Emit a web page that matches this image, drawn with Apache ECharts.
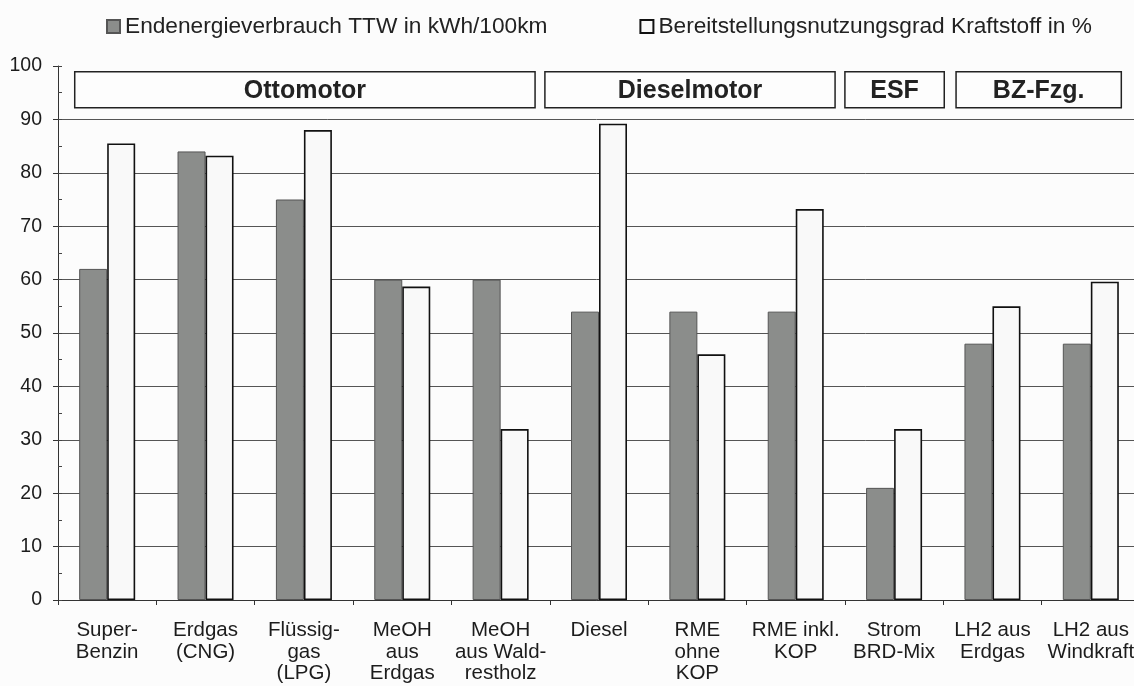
<!DOCTYPE html>
<html>
<head>
<meta charset="utf-8">
<script src="https://cdn.jsdelivr.net/npm/echarts@6/dist/echarts.min.js"></script>
<style>
  html, body { margin: 0; padding: 0; background: #fcfcfc; }
  #chart { width: 1134px; height: 686px; }
</style>
</head>
<body>
<div id="chart"></div>
<script>
// Kategorien (x-Achse)
var categories = [
  'Super-\nBenzin', 'Erdgas\n(CNG)', 'Flüssig-\ngas\n(LPG)', 'MeOH\naus\nErdgas',
  'MeOH\naus Wald-\nrestholz', 'Diesel', 'RME\nohne\nKOP', 'RME inkl.\nKOP',
  'Strom\nBRD-Mix', 'LH2 aus\nErdgas', 'LH2 aus\nWindkraft'
];
var seriesNames = ['Endenergieverbrauch TTW in kWh/100km', 'Bereitstellungsnutzungsgrad Kraftstoff in %'];
var endenergie   = [62, 84, 75, 60, 60, 54, 54, 54, 21, 48, 48];
var nutzungsgrad = [85.5, 83.2, 88, 58.7, 32, 89.2, 46, 73.2, 32, 55, 59.6];
var yTicks = [0, 10, 20, 30, 40, 50, 60, 70, 80, 90, 100];

// Gruppen ueber den Balken
var groupNames = ['Ottomotor', 'Dieselmotor', 'ESF', 'BZ-Fzg.'];

// Lage der Kaesten in Kategorie-Einheiten (nur Layout)
var boxLayout = [[0.17, 4.85], [4.95, 7.9], [8.0, 9.01], [9.13, 10.81]];
var boxY = [92.2, 98.9];

var font = 'Liberation Sans, Arial, sans-serif';
var chart = echarts.init(document.getElementById('chart'));

var option = {
  backgroundColor: '#fcfcfc',
  animation: false,
  textStyle: { fontFamily: font, color: '#222' },
  legend: {
    left: 101, top: 10,
    itemWidth: 13, itemHeight: 13, itemGap: 92,
    icon: 'rect',
    data: seriesNames,
    textStyle: { fontSize: 22.7, color: '#222', fontFamily: font }
  },
  grid: { left: 58, right: -6, top: 66, bottom: 86, containLabel: false, outerBoundsMode: 'none' },
  xAxis: [{
    type: 'category',
    data: categories,
    axisLine: { lineStyle: { color: '#333', width: 1 } },
    axisTick: { show: true, length: 5, interval: 0, lineStyle: { color: '#333' } },
    axisLabel: { interval: 0, fontSize: 20.5, lineHeight: 21.5, margin: 20, color: '#1c1c1c', fontFamily: font }
  }, {
    type: 'value', min: 0, max: 11, show: false
  }],
  yAxis: [{
    type: 'value', min: 0, max: 100, interval: 10,
    axisLine: { show: true, lineStyle: { color: '#333' } },
    axisTick: { show: true, length: 5, lineStyle: { color: '#333' } },
    axisLabel: {
      fontSize: 19.5, margin: 16, color: '#1c1c1c', fontFamily: font,
      formatter: function (v) { return yTicks.indexOf(v) >= 0 ? String(v) : ''; }
    },
    splitLine: { show: true, showMaxLine: false, lineStyle: { color: '#555', width: 1 } }
  }, {
    type: 'value', min: 0, max: 100, interval: 5, position: 'left',
    axisLine: { show: false },
    axisTick: { show: true, inside: true, length: 4, lineStyle: { color: '#444' } },
    axisLabel: { show: false },
    splitLine: { show: false }
  }],
  series: [{
    name: seriesNames[0],
    type: 'bar',
    data: endenergie,
    barWidth: 28,
    barGap: '0%',
    itemStyle: { color: '#8b8d8b', borderColor: '#555', borderWidth: 1 }
  }, {
    name: seriesNames[1],
    type: 'bar',
    data: nutzungsgrad,
    barWidth: 28,
    itemStyle: { color: '#f9f9f9', borderColor: '#111', borderWidth: 1.6 }
  }, {
    type: 'custom',
    xAxisIndex: 1,
    yAxisIndex: 0,
    silent: true,
    z: 5,
    data: boxLayout.map(function (b, i) { return [b[0], b[1], i]; }),
    renderItem: function (params, api) {
      var p0 = api.coord([api.value(0), boxY[1]]);
      var p1 = api.coord([api.value(1), boxY[0]]);
      var name = groupNames[api.value(2)];
      return {
        type: 'group',
        children: [{
          type: 'rect',
          shape: { x: p0[0], y: p0[1], width: p1[0] - p0[0], height: p1[1] - p0[1] },
          style: { fill: '#fdfdfd', stroke: '#222', lineWidth: 1.5 }
        }, {
          type: 'text',
          style: {
            x: (p0[0] + p1[0]) / 2, y: (p0[1] + p1[1]) / 2 + 1,
            text: name, align: 'center', verticalAlign: 'middle',
            font: 'bold 25px ' + font, fill: '#222'
          }
        }]
      };
    }
  }]
};

chart.setOption(option);
</script>
</body>
</html>
